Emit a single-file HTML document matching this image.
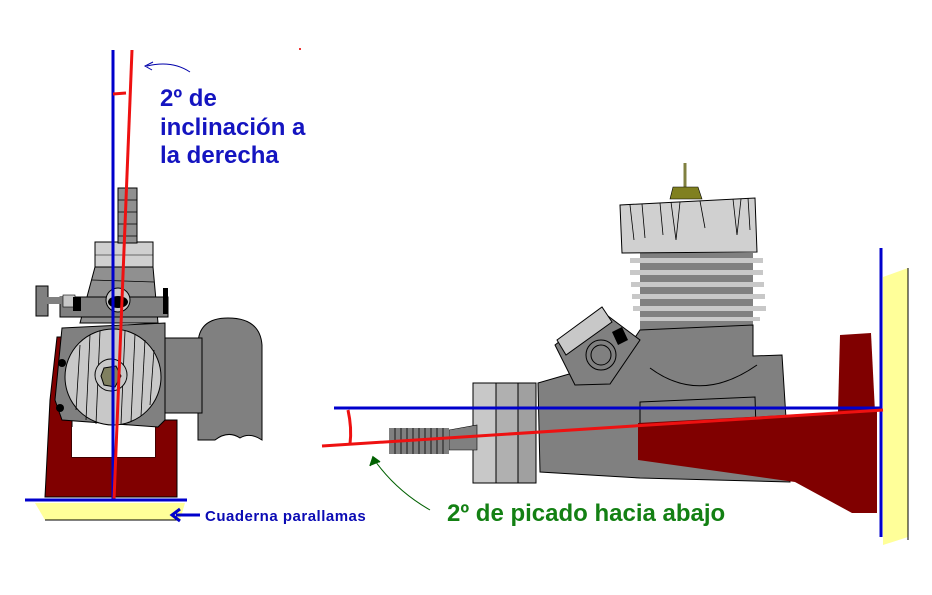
<!DOCTYPE html>
<html><head><meta charset="utf-8"><style>
html,body{margin:0;padding:0;background:#fff;}
svg{display:block;}
text{font-family:"Liberation Sans",Arial,sans-serif;font-weight:bold;}
</style></head><body>
<svg width="932" height="595" viewBox="0 0 932 595" xmlns="http://www.w3.org/2000/svg">
<rect width="932" height="595" fill="#fff"/>

<!-- LEFT ENGINE (front view) -->
<polygon points="35,503 185,503 180,520 45,520" fill="#ffff99"/>
<line x1="45" y1="520" x2="180" y2="520" stroke="#000" stroke-width="1"/>
<path d="M198,440 L198,345 Q198,318 228,318 Q260,318 262,345 L262,440 Q250,432 240,438 Q228,430 215,440 Z" fill="#808080" stroke="#000" stroke-width="1"/>
<rect x="150" y="338" width="52" height="75" fill="#808080" stroke="#000" stroke-width="1"/>
<polygon points="57,337 72,337 72,457 155,457 155,420 177,420 177,497 45,497 50,400" fill="#800000" stroke="#000" stroke-width="1"/>
<rect x="72" y="427" width="83" height="30" fill="#fff"/>
<polygon points="62,328 165,323 165,420 158,427 62,420 55,400" fill="#808080" stroke="#000" stroke-width="1"/>
<circle cx="62" cy="363" r="4" fill="#000"/>
<circle cx="60" cy="408" r="4" fill="#000"/>
<circle cx="113" cy="377" r="48" fill="#c8c8c8" stroke="#000" stroke-width="1"/>
<g stroke="#000" stroke-width="0.8">
<line x1="80" y1="345" x2="76" y2="410"/><line x1="90" y1="335" x2="86" y2="420"/>
<line x1="100" y1="331" x2="96" y2="424"/><line x1="125" y1="331" x2="121" y2="424"/>
<line x1="135" y1="334" x2="131" y2="422"/><line x1="145" y1="340" x2="141" y2="416"/>
<line x1="154" y1="350" x2="150" y2="405"/>
</g>
<circle cx="111" cy="375" r="16" fill="#c8c8c8" stroke="#000" stroke-width="1"/>
<polygon points="104,368 116,366 121,376 115,387 104,385 101,376" fill="#808060" stroke="#000" stroke-width="1"/>
<polygon points="95,267 153,267 158,323 80,323" fill="#909090" stroke="#000" stroke-width="1"/>
<line x1="92" y1="280" x2="154" y2="282" stroke="#000" stroke-width="0.8"/>
<rect x="60" y="297" width="108" height="20" fill="#808080" stroke="#000" stroke-width="1"/>
<rect x="36" y="286" width="12" height="30" fill="#808080" stroke="#000" stroke-width="1"/>
<rect x="40" y="297" width="30" height="7" fill="#808080"/>
<rect x="63" y="295" width="12" height="12" fill="#c8c8c8" stroke="#000" stroke-width="0.6"/>
<rect x="73" y="297" width="8" height="14" fill="#000"/>
<rect x="163" y="288" width="5" height="26" fill="#000"/>
<ellipse cx="118" cy="300" rx="12" ry="12" fill="#c8c8c8" stroke="#000" stroke-width="1"/>
<ellipse cx="118" cy="302" rx="10" ry="6" fill="#000"/>
<rect x="95" y="242" width="58" height="25" fill="#d0d0d0" stroke="#000" stroke-width="1"/>
<line x1="95" y1="255" x2="153" y2="255" stroke="#000" stroke-width="0.6"/>
<rect x="118" y="188" width="19" height="55" fill="#909090" stroke="#000" stroke-width="1"/>
<g stroke="#000" stroke-width="0.7"><line x1="118" y1="200" x2="137" y2="200"/><line x1="118" y1="212" x2="137" y2="212"/><line x1="118" y1="224" x2="137" y2="224"/><line x1="118" y1="236" x2="137" y2="236"/></g>

<line x1="113" y1="50" x2="113" y2="500" stroke="#0000cc" stroke-width="3"/>
<line x1="132" y1="50" x2="114" y2="500" stroke="#ee1111" stroke-width="3"/>
<path d="M113,94 L126,93" stroke="#ee1111" stroke-width="3" fill="none"/>
<line x1="25" y1="500" x2="187" y2="500" stroke="#0000cc" stroke-width="3"/>
<path d="M190,72 Q172,60 147,66" stroke="#0000aa" stroke-width="1" fill="none"/>
<path d="M153,62 L145,66 L152,70" stroke="#0000aa" stroke-width="1" fill="none"/>
<rect x="299" y="48" width="2" height="2" fill="#e33"/>
<line x1="176" y1="515" x2="200" y2="515" stroke="#0000cc" stroke-width="3"/>
<path d="M180,509 L172,515 L180,521" stroke="#0000cc" stroke-width="3" fill="none"/>

<text x="160" y="106" font-size="24" fill="#1414c0">2º de</text>
<text x="160" y="135" font-size="24" fill="#1414c0">inclinación a</text>
<text x="160" y="163" font-size="24" fill="#1414c0">la derecha</text>
<text x="205" y="521" font-size="15" letter-spacing="0.5" fill="#0a0ab4">Cuaderna parallamas</text>

<!-- RIGHT ENGINE (side view) -->
<polygon points="883,277 908,268 908,537 883,545" fill="#ffff99"/>
<line x1="908" y1="268" x2="908" y2="540" stroke="#000" stroke-width="1"/>
<line x1="685" y1="163" x2="685" y2="187" stroke="#808040" stroke-width="3"/>
<polygon points="673,187 698,187 702,199 670,199" fill="#808020" stroke="#000" stroke-width="0.6"/>
<rect x="640" y="253" width="113" height="100" fill="#808080"/>
<g fill="#c8c8c8">
<rect x="630" y="258" width="133" height="5"/><rect x="630" y="270" width="133" height="5"/>
<rect x="631" y="282" width="133" height="5"/><rect x="632" y="294" width="133" height="5"/>
<rect x="633" y="306" width="133" height="5"/><rect x="640" y="317" width="120" height="4"/>
</g>
<polygon points="620,205 755,198 757,252 622,253" fill="#d0d0d0" stroke="#000" stroke-width="1"/>
<g stroke="#000" stroke-width="0.8" fill="none">
<path d="M630,205 L634,240 M642,204 L645,238 M660,203 L663,235 M671,202 L676,240 L680,202 M700,201 L705,228 M733,199 L737,235 L741,199 M748,198 L750,230"/>
</g>
<polygon points="640,330 753,325 753,356 782,355 790,482 640,478 540,472 538,383 590,368 630,345" fill="#808080" stroke="#000" stroke-width="1"/>
<polygon points="555,345 600,310 640,340 610,384 575,385" fill="#808080" stroke="#000" stroke-width="1"/>
<polygon points="557,340 602,307 612,322 566,355" fill="#c8c8c8" stroke="#000" stroke-width="1"/>
<polygon points="612,332 622,327 628,340 618,345" fill="#000"/>
<circle cx="601" cy="355" r="15" fill="#808080" stroke="#000" stroke-width="1"/>
<circle cx="601" cy="355" r="10" fill="#808080" stroke="#000" stroke-width="1"/>
<path d="M650,368 Q700,405 757,365" stroke="#000" stroke-width="1" fill="none"/>
<polygon points="640,402 755,397 757,460 640,458" fill="none" stroke="#000" stroke-width="1"/>
<polygon points="840,335 871,333 875,412 838,412" fill="#800000"/>
<polygon points="638,423 877,410 877,513 852,513 795,482 638,460" fill="#800000"/>
<rect x="473" y="383" width="63" height="100" fill="#b0b0b0" stroke="#000" stroke-width="1"/>
<rect x="473" y="383" width="23" height="100" fill="#c8c8c8" stroke="#000" stroke-width="1"/>
<rect x="518" y="383" width="18" height="100" fill="#a0a0a0" stroke="#000" stroke-width="1"/>
<polygon points="449,430 477,425 477,450 449,450" fill="#808080" stroke="#000" stroke-width="0.6"/>
<rect x="389" y="428" width="60" height="26" fill="#808080"/>
<g stroke="#000" stroke-width="0.8">
<line x1="395" y1="428" x2="395" y2="454"/><line x1="401" y1="428" x2="401" y2="454"/><line x1="407" y1="428" x2="407" y2="454"/>
<line x1="413" y1="428" x2="413" y2="454"/><line x1="419" y1="428" x2="419" y2="454"/><line x1="425" y1="428" x2="425" y2="454"/>
<line x1="431" y1="428" x2="431" y2="454"/><line x1="437" y1="428" x2="437" y2="454"/><line x1="443" y1="428" x2="443" y2="454"/>
</g>
<line x1="334" y1="408" x2="881" y2="408" stroke="#0000cc" stroke-width="3"/>
<line x1="881" y1="248" x2="881" y2="537" stroke="#0000cc" stroke-width="3"/>
<line x1="322" y1="446" x2="883" y2="410" stroke="#ee1111" stroke-width="3"/>
<path d="M348,410 Q352,428 350,444" stroke="#ee1111" stroke-width="3" fill="none"/>
<path d="M430,510 Q395,490 373,458" stroke="#006000" stroke-width="1" fill="none"/>
<path d="M370,466 L373,457 L380,462" stroke="#006000" stroke-width="1.5" fill="#006000"/>
<text x="447" y="521" font-size="24" fill="#138013">2º de picado hacia abajo</text>
</svg>
</body></html>
